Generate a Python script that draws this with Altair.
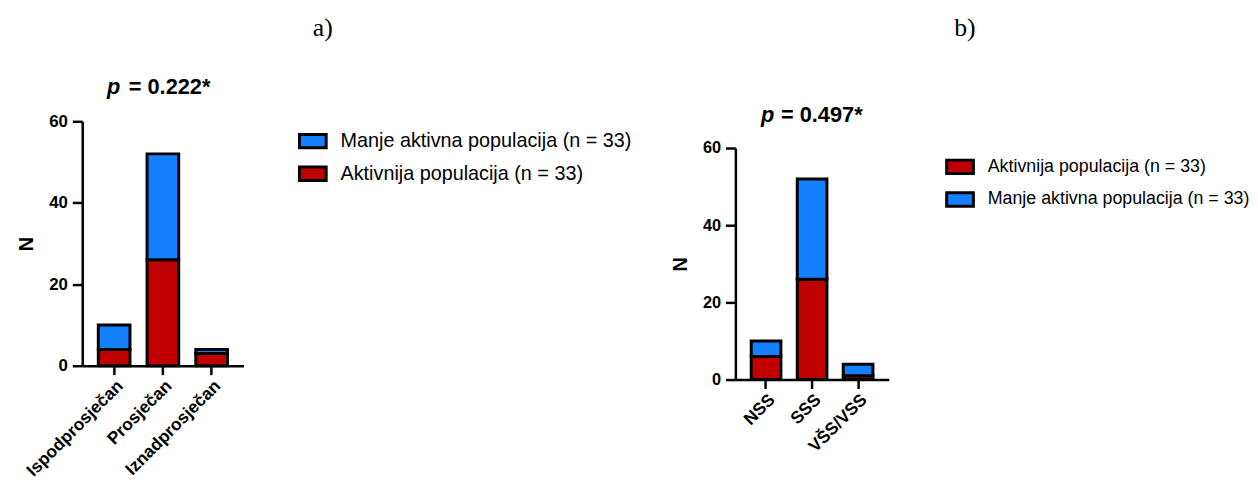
import altair as alt
import pandas as pd

# ---- data ----
cats_a = ["Ispodprosječan", "Prosječan", "Iznadprosječan"]
aktiv_a = [4, 26, 3]
manje_a = [6, 26, 1]

cats_b = ["NSS", "SSS", "VŠS/VSS"]
aktiv_b = [6, 26, 1]
manje_b = [4, 26, 3]

lab_aktiv = "Aktivnija populacija (n = 33)"
lab_manje = "Manje aktivna populacija (n = 33)"
title_a = ("a)", "p", "= 0.222*")
title_b = ("b)", "p", "= 0.497*")

BLUE = "#1380FF"
RED = "#C00000"
FONT = "Liberation Sans"
SERIF = "Liberation Serif"


def make_df(cats, aktiv, manje):
    rows = []
    for c, a, m in zip(cats, aktiv, manje):
        rows.append({"cat": c, "grp": lab_aktiv, "n": a, "ord": 0})
        rows.append({"cat": c, "grp": lab_manje, "n": m, "ord": 1})
    return pd.DataFrame(rows)


def panel(cats, aktiv, manje, titles, legend_order, w, h, top, pin, pout,
          leg_x, leg_y, leg_font, ylab_font, lab_pos, p_pos, eq_pos):
    df = make_df(cats, aktiv, manje)
    color_range = [BLUE if g == lab_manje else RED for g in legend_order]
    bars = alt.Chart(df).mark_bar(stroke="black", strokeWidth=3).encode(
        x=alt.X("cat:N", sort=cats, title=None,
                scale=alt.Scale(paddingInner=pin, paddingOuter=pout),
                axis=alt.Axis(labelAngle=-45, labelAlign="right",
                              labelBaseline="top", labelFontSize=17.5,
                              labelPadding=2, tickSize=9)),
        y=alt.Y("n:Q", stack="zero", title="N",
                scale=alt.Scale(domain=[0, 60], range=[h, top]),
                axis=alt.Axis(values=[0, 20, 40, 60], tickSize=10,
                              labelFontSize=ylab_font, labelPadding=5,
                              titleFontSize=20, titlePadding=12)),
        color=alt.Color("grp:N",
                        scale=alt.Scale(domain=legend_order, range=color_range),
                        sort=legend_order,
                        legend=alt.Legend(title=None, orient="none",
                                          legendX=leg_x, legendY=leg_y,
                                          symbolType="M-1,-0.5L1,-0.5L1,0.5L-1,0.5Z",
                                          symbolSize=729,
                                          symbolStrokeColor="black",
                                          symbolStrokeWidth=3,
                                          labelFont=FONT, labelFontSize=leg_font,
                                          labelColor="black", labelLimit=500,
                                          labelOffset=13, rowPadding=5)),
        order=alt.Order("ord:Q", sort="ascending"),
    )
    tdf = pd.DataFrame({"lab": [titles[0]], "p": [titles[1]], "eq": [titles[2]]})
    lab = alt.Chart(tdf).mark_text(font=SERIF, fontSize=26, align="center",
                                   baseline="alphabetic", color="black").encode(
        text="lab:N", x=alt.value(lab_pos[0]), y=alt.value(lab_pos[1]))
    ptxt = alt.Chart(tdf).mark_text(font=FONT, fontSize=22, fontWeight="bold",
                                    fontStyle="italic", align="left",
                                    baseline="alphabetic", color="black").encode(
        text="p:N", x=alt.value(p_pos[0]), y=alt.value(p_pos[1]))
    etxt = alt.Chart(tdf).mark_text(font=FONT, fontSize=22, fontWeight="bold",
                                    align="left", baseline="alphabetic",
                                    color="black").encode(
        text="eq:N", x=alt.value(eq_pos[0]), y=alt.value(eq_pos[1]))
    return alt.layer(bars, lab, ptxt, etxt).properties(width=w, height=h)


# panel a: plot area 163 x 247 ; panel b: 155 x 234, drawn 27px lower
chart_a = panel(cats_a, aktiv_a, manje_a, title_a, [lab_manje, lab_aktiv],
                163, 247, 0, 0.35, 0.33, 218, 5, 20, 17,
                (243, -86), (25, -28), (47, -28))
chart_b = panel(cats_b, aktiv_b, manje_b, title_b, [lab_aktiv, lab_manje],
                155, 261, 27, 0.355, 0.344, 212, 31, 18, 16.5,
                (232, -86), (26, 1), (46, 1))

chart = alt.hconcat(chart_a, chart_b, spacing=38).resolve_scale(
    color="independent"
).properties(
    padding={"left": 9, "top": 5, "right": 0, "bottom": 0},
    background="white",
).configure_view(
    stroke=None
).configure_axis(
    domainColor="black", domainWidth=2.5, tickColor="black", tickWidth=2.5,
    labelColor="black", labelFont=FONT, labelFontWeight="bold",
    titleColor="black", titleFont=FONT, titleFontWeight="bold", grid=False
)

chart.save("out.html", embed_options={"renderer": "svg", "actions": False})
